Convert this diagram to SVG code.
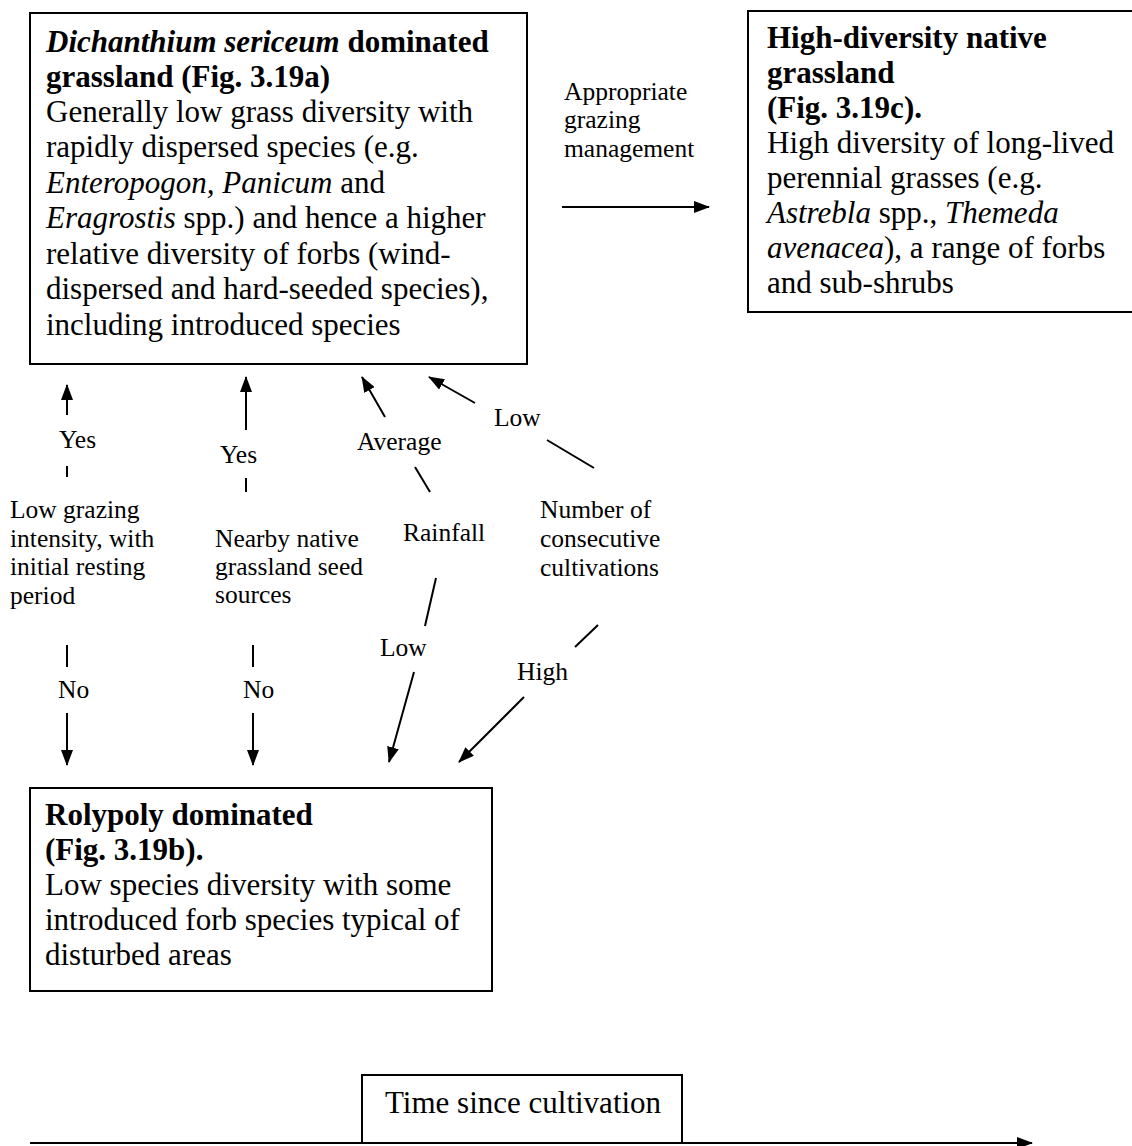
<svg xmlns="http://www.w3.org/2000/svg" width="1132" height="1146" viewBox="0 0 1132 1146">
<defs>
<marker id="ah" markerUnits="userSpaceOnUse" markerWidth="16" markerHeight="12" refX="15" refY="6" orient="auto">
<path d="M0,0 L16,6 L0,12 Z" fill="#000"/>
</marker>
<style>
.box{fill:#fff;stroke:#000;stroke-width:2}
.t{font-family:"Liberation Serif","Times New Roman",serif;font-size:31px;fill:#000}
.l{font-family:"Liberation Serif","Times New Roman",serif;font-size:25.5px;fill:#000}
.b{font-weight:bold}
.i{font-style:italic}
.c{stroke:#000;stroke-width:2;fill:none}
.a{stroke:#000;stroke-width:2;fill:none;marker-end:url(#ah)}
</style>
</defs>
<rect width="1132" height="1146" fill="#fff"/>

<g id="node-dichanthium">
<rect class="box" x="30" y="13" width="497" height="351"/>
<text class="t" x="46" y="52"><tspan class="i b">Dichanthium sericeum</tspan><tspan class="b"> dominated</tspan></text>
<text class="t b" x="46" y="87">grassland (Fig. 3.19a)</text>
<text class="t" x="46" y="122">Generally low grass diversity with</text>
<text class="t" x="46" y="157">rapidly dispersed species (e.g.</text>
<text class="t" x="46" y="193"><tspan class="i">Enteropogon, Panicum</tspan> and</text>
<text class="t" x="46" y="228"><tspan class="i">Eragrostis</tspan> spp.) and hence a higher</text>
<text class="t" x="46" y="264">relative diversity of forbs (wind-</text>
<text class="t" x="46" y="299">dispersed and hard-seeded species),</text>
<text class="t" x="46" y="335">including introduced species</text>
</g>

<g id="node-highdiversity">
<rect class="box" x="748" y="11" width="400" height="301"/>
<text class="t b" x="767" y="48">High-diversity native</text>
<text class="t b" x="767" y="83">grassland</text>
<text class="t b" x="767" y="118">(Fig. 3.19c).</text>
<text class="t" x="767" y="153">High diversity of long-lived</text>
<text class="t" x="767" y="188">perennial grasses (e.g.</text>
<text class="t" x="767" y="223"><tspan class="i">Astrebla</tspan> spp., <tspan class="i">Themeda</tspan></text>
<text class="t" x="767" y="258"><tspan class="i">avenacea</tspan>), a range of forbs</text>
<text class="t" x="767" y="293">and sub-shrubs</text>
</g>

<g id="node-rolypoly">
<rect class="box" x="30" y="788" width="462" height="203"/>
<text class="t b" x="45" y="825">Rolypoly dominated</text>
<text class="t b" x="45" y="860">(Fig. 3.19b).</text>
<text class="t" x="45" y="895">Low species diversity with some</text>
<text class="t" x="45" y="930">introduced forb species typical of</text>
<text class="t" x="45" y="965">disturbed areas</text>
</g>

<g id="node-grazing">
<text class="l" x="10" y="518">Low grazing</text>
<text class="l" x="10" y="547">intensity, with</text>
<text class="l" x="10" y="575">initial resting</text>
<text class="l" x="10" y="604">period</text>
</g>

<g id="node-seed">
<text class="l" x="215" y="547">Nearby native</text>
<text class="l" x="215" y="575">grassland seed</text>
<text class="l" x="215" y="603">sources</text>
</g>

<g id="node-rainfall">
<text class="l" x="403" y="541">Rainfall</text>
</g>

<g id="node-cultivations">
<text class="l" x="540" y="518">Number of</text>
<text class="l" x="540" y="547">consecutive</text>
<text class="l" x="540" y="576">cultivations</text>
</g>

<g id="node-time">
<rect class="box" x="362" y="1075" width="320" height="68"/>
<text class="t" x="385" y="1113">Time since cultivation</text>
</g>

<g id="connectors">
<text class="l" x="564" y="100">Appropriate</text>
<text class="l" x="564" y="128">grazing</text>
<text class="l" x="564" y="157">management</text>
<line class="a" x1="562" y1="207" x2="709" y2="207"/>

<line class="a" x1="67" y1="415" x2="67" y2="385"/>
<text class="l" x="59" y="448">Yes</text>
<line class="c" x1="67" y1="466" x2="67" y2="477"/>
<line class="c" x1="67" y1="645" x2="67" y2="667"/>
<text class="l" x="58" y="698">No</text>
<line class="a" x1="67" y1="713" x2="67" y2="765"/>

<line class="a" x1="246" y1="430" x2="246" y2="377"/>
<text class="l" x="220" y="463">Yes</text>
<line class="c" x1="246" y1="478" x2="246" y2="492"/>
<line class="c" x1="253" y1="645" x2="253" y2="667"/>
<text class="l" x="243" y="698">No</text>
<line class="a" x1="253" y1="713" x2="253" y2="765"/>

<line class="a" x1="385" y1="417" x2="362" y2="377"/>
<text class="l" x="357" y="450">Average</text>
<line class="c" x1="415" y1="467" x2="430" y2="492"/>
<line class="c" x1="436" y1="578" x2="425" y2="626"/>
<text class="l" x="380" y="656">Low</text>
<line class="a" x1="414" y1="672" x2="389" y2="762"/>

<line class="a" x1="475" y1="403" x2="429" y2="377"/>
<text class="l" x="494" y="426">Low</text>
<line class="c" x1="547" y1="440" x2="594" y2="468"/>
<line class="c" x1="598" y1="625" x2="575" y2="647"/>
<text class="l" x="517" y="680">High</text>
<line class="a" x1="524" y1="697" x2="459" y2="762"/>

<line class="a" x1="30" y1="1143" x2="1032" y2="1143"/>
</g>
</svg>
